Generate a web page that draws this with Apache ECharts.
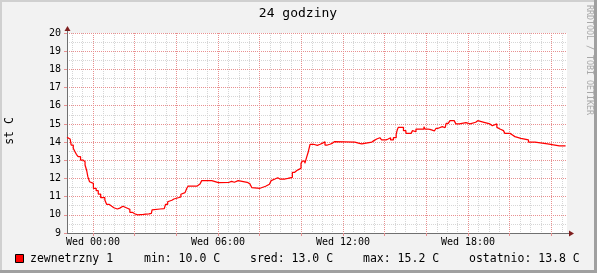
<!DOCTYPE html>
<html><head><meta charset="utf-8">
<script src="https://cdn.jsdelivr.net/npm/echarts@6/dist/echarts.min.js"></script>
<style>html,body{margin:0;padding:0;background:#F2F2F2;overflow:hidden}#c{width:597px;height:273px}</style>
</head><body><div id="c"></div><script>
// time in minutes relative to Wed 00:00 (start of each step), temperature in C
const minutes = [-75,-71,-66,-63,-57,-52,-48,-43,-36,-29,-23,-18,-15,-10,-5,1,9,15,22,34,39,46,54,60,70,77,86,99,106,113,120,128,145,161,168,170,174,193,205,209,215,220,227,233,253,257,265,270,274,300,308,313,342,361,392,399,407,418,444,452,457,459,481,497,508,513,517,524,532,538,543,553,561,574,580,587,593,599,603,610,615,620,625,635,646,654,660,668,675,682,689,695,754,767,774,778,803,809,817,826,831,844,850,857,865,873,876,879,894,901,916,920,925,930,953,956,964,970,977,983,988,994,1006,1014,1017,1023,1028,1040,1045,1055,1060,1074,1086,1102,1108,1112,1126,1131,1143,1150,1163,1167,1172,1182,1186,1201,1208,1215,1232,1254,1273,1309,1314,1343,1348,1361];
const temps = [14.26,14.17,14.08,13.84,13.66,13.47,13.33,13.2,13.01,12.92,12.74,12.41,12.1,11.82,11.73,11.46,11.33,11.14,10.94,10.81,10.58,10.47,10.39,10.32,10.37,10.47,10.36,10.3,10.14,10.06,10.0,10.02,10.05,10.08,10.17,10.27,10.32,10.34,10.45,10.58,10.72,10.8,10.87,10.98,11.13,11.22,11.29,11.46,11.58,11.69,11.79,11.88,11.77,11.79,11.84,11.79,11.88,11.79,11.7,11.64,11.5,11.46,11.57,11.68,11.79,11.88,11.97,12.04,11.97,11.92,11.97,12.0,12.06,12.33,12.44,12.5,12.56,12.83,12.96,12.83,13.16,13.47,13.88,13.82,13.88,13.93,14.02,13.84,13.88,13.93,14.02,14.0,13.93,13.9,13.93,14.0,14.08,14.17,14.24,14.21,14.12,14.17,14.24,14.12,14.24,14.44,14.66,14.81,14.63,14.48,14.54,14.63,14.57,14.72,14.85,14.72,14.7,14.66,14.61,14.66,14.76,14.85,14.79,14.85,15.03,15.09,15.18,15.09,15.0,15.03,15.07,15.0,15.09,15.18,15.2,15.09,15.03,15.0,14.9,15.0,14.81,14.72,14.63,14.57,14.48,14.39,14.3,14.21,14.12,14.0,13.9,13.84,13.79,13.72,13.79,13.79];
const tickMinutes = [0, 360, 720, 1080];
const tickLabels = ['Wed 00:00', 'Wed 06:00', 'Wed 12:00', 'Wed 18:00'];
const titleText = '24 godziny';
const yTitle = 'st C';
const watermark = 'RRDTOOL / TOBI OETIKER';
const seriesName = 'zewnetrzny 1';
const statLabels = ['min:', 'sred:', 'max:', 'ostatnio:'];
const statValues = [10.0, 13.0, 15.2, 13.8];
const unit = 'C';

const G = {left: 67, top: 33, width: 500, height: 200};
const MONO = '"DejaVu Sans Mono", monospace';
const MINOR = '#D6D6D6', MAJOR = '#E89090', AXIS = '#707070', ARROW = '#7F1F1F';

const chart = echarts.init(document.getElementById('c'), null, {renderer: 'canvas'});
const data = minutes.map((m, i) => [m, temps[i]]);

const baseX = {type: 'value', min: -75, max: 1365, position: 'bottom', gridIndex: 0};
const statX = [144, 250, 363, 469];

const graphics = [
  {type: 'rect', shape: {x: 0, y: 0, width: 597, height: 2}, style: {fill: '#D0D0D0'}, silent: true},
  {type: 'rect', shape: {x: 0, y: 0, width: 2, height: 273}, style: {fill: '#D0D0D0'}, silent: true},
  {type: 'rect', shape: {x: 0, y: 270, width: 597, height: 3}, style: {fill: '#A0A0A0'}, silent: true},
  {type: 'rect', shape: {x: 594, y: 0, width: 3, height: 273}, style: {fill: '#A0A0A0'}, silent: true},
  {type: 'text', x: 298, y: 14, style: {text: titleText, font: '13px ' + MONO, fill: '#000', align: 'center', verticalAlign: 'middle'}},
  {type: 'text', x: 10, y: 131, rotation: Math.PI / 2, style: {text: yTitle, font: '11.5px ' + MONO, fill: '#000', align: 'center', verticalAlign: 'middle'}},
  {type: 'text', x: 589, y: 60, rotation: -Math.PI / 2, style: {text: watermark, font: '8.3px ' + MONO, fill: '#A8A8A8', align: 'center', verticalAlign: 'middle'}},
  // axis extensions and arrows
  {type: 'line', shape: {x1: G.left + 0.5, y1: G.top, x2: G.left + 0.5, y2: G.top - 3}, style: {stroke: AXIS, lineWidth: 1}, z: 10},
  {type: 'polygon', shape: {points: [[G.left - 2.5, G.top - 2], [G.left + 3.5, G.top - 2], [G.left + 0.5, G.top - 7]]}, style: {fill: ARROW}, z: 10},
  {type: 'line', shape: {x1: G.left + G.width, y1: G.top + G.height + 0.5, x2: G.left + G.width + 3, y2: G.top + G.height + 0.5}, style: {stroke: AXIS, lineWidth: 1}, z: 10},
  {type: 'polygon', shape: {points: [[G.left + G.width + 2, G.top + G.height - 2.5], [G.left + G.width + 2, G.top + G.height + 3.5], [G.left + G.width + 7, G.top + G.height + 0.5]]}, style: {fill: ARROW}, z: 10},
  // legend
  {type: 'rect', shape: {x: 15.5, y: 254.5, width: 8, height: 8}, style: {fill: '#FF0000', stroke: '#000', lineWidth: 1}},
  {type: 'text', x: 30, y: 259, style: {text: seriesName, font: '11.5px ' + MONO, fill: '#000', align: 'left', verticalAlign: 'middle'}}
];
statLabels.forEach((l, i) => {
  graphics.push({type: 'text', x: statX[i], y: 259, style: {text: l + ' ' + statValues[i].toFixed(1) + ' ' + unit, font: '11.5px ' + MONO, fill: '#000', align: 'left', verticalAlign: 'middle'}});
});

chart.setOption({
  animation: false,
  backgroundColor: '#F2F2F2',
  grid: {left: G.left, top: G.top, width: G.width, height: G.height, show: true, backgroundColor: '#FFFFFF', borderWidth: 0},
  xAxis: [
    Object.assign({}, baseX, {
      minInterval: 30, maxInterval: 30, z: 0,
      axisLine: {show: false, onZero: false}, axisTick: {show: false}, axisLabel: {show: false},
      splitLine: {show: true, showMinLine: false, showMaxLine: false, lineStyle: {color: MINOR, width: 1, type: [1, 1]}}
    }),
    Object.assign({}, baseX, {
      minInterval: 120, maxInterval: 120, z: 1,
      axisLine: {show: true, onZero: false, lineStyle: {color: AXIS, width: 1}},
      axisTick: {show: true, length: 3, lineStyle: {color: MAJOR}},
      axisLabel: {show: true, showMinLabel: false, showMaxLabel: false, margin: 4, color: '#000', fontFamily: MONO, fontSize: 10,
        formatter: v => { const i = tickMinutes.indexOf(v); return i >= 0 ? tickLabels[i] : ''; }},
      splitLine: {show: true, showMinLine: false, showMaxLine: false, lineStyle: {color: MAJOR, width: 1, type: [1, 1]}}
    })
  ],
  yAxis: [
    {type: 'value', min: 9, max: 20, interval: 0.5, position: 'left', z: 0,
      axisLine: {show: false, onZero: false}, axisTick: {show: false}, axisLabel: {show: false},
      splitLine: {show: true, lineStyle: {color: MINOR, width: 1, type: [1, 1]}}},
    {type: 'value', min: 9, max: 20, interval: 1, position: 'left', z: 1,
      axisLine: {show: true, onZero: false, lineStyle: {color: AXIS, width: 1}},
      axisTick: {show: true, length: 3, lineStyle: {color: MAJOR}},
      axisLabel: {show: true, margin: 6, color: '#000', fontFamily: MONO, fontSize: 10},
      splitLine: {show: true, lineStyle: {color: MAJOR, width: 1, type: [1, 1]}}}
  ],
  graphic: graphics,
  series: [{
    name: seriesName, type: 'line', step: 'end', data: data, xAxisIndex: 1, yAxisIndex: 1,
    showSymbol: false, z: 5, lineStyle: {color: '#FF0000', width: 1.25}, silent: true
  }]
});
</script></body></html>
